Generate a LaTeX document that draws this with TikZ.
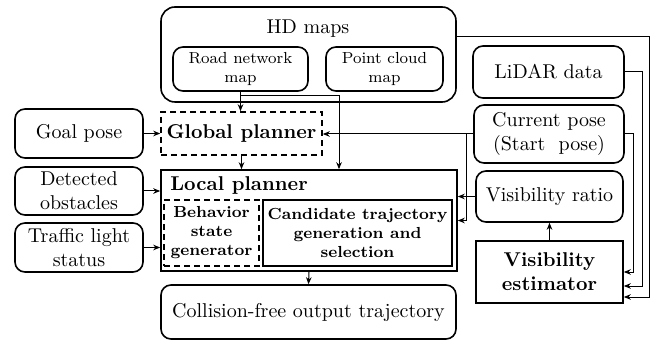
\documentclass[tikz,border=0pt]{standalone}
\usetikzlibrary{arrows.meta,calc}
\tikzset{
  box/.style={draw, line width=0.8pt, align=center, inner sep=1pt},
  rbox/.style={box, rounded corners=5pt},
  dbox/.style={box, dash pattern=on 3pt off 2pt},
  arr/.style={line width=0.5pt, -{Stealth[length=3.5pt,width=2.8pt]}},
  ln/.style={line width=0.5pt},
}
\begin{document}
\begin{tikzpicture}[x=0.5pt,y=-0.5pt]
\useasboundingbox (0,0) rectangle (656,341);
% HD maps
\node[rbox, rounded corners=7pt, minimum width=147.5pt, minimum height=47.5pt] (hd) at (308.5,54.5) {};
\node[inner sep=0pt] (hdt) at (308,29) {HD maps};
\node[rbox, minimum width=67.5pt, minimum height=22pt, font=\footnotesize] (road) at (240.5,69) {Road network\\map};
\node[rbox, minimum width=58.5pt, minimum height=22pt, font=\footnotesize] (pc) at (384.5,69) {Point cloud\\map};
% right column
\node[rbox, minimum width=75.5pt, minimum height=26pt] (lidar) at (548.5,72) {LiDAR data};
\node[rbox, minimum width=75pt, minimum height=29pt] (cur) at (549,134) {Current pose\\(Start~ pose)};
\node[rbox, minimum width=73.5pt, minimum height=25.5pt] (vr) at (549.5,196.5) {Visibility ratio};
\node[box, minimum width=73.5pt, minimum height=31pt, font=\bfseries] (ve) at (549.5,272) {Visibility\\estimator};
% left column
\node[rbox, minimum width=64pt, minimum height=24.5pt] (goal) at (79,133.5) {Goal pose};
\node[rbox, minimum width=64pt, minimum height=24pt] (det) at (79,191) {Detected\\obstacles};
\node[rbox, minimum width=64pt, minimum height=24.5pt] (tl) at (79,247.5) {Traffic light\\status};
% planners
\node[dbox, minimum width=80.5pt, minimum height=21.5pt, font=\bfseries] (gp) at (241.5,133.5) {Global planner};
\node[box, minimum width=148pt, minimum height=50.5pt] (lp) at (309,220.5) {};
\node[anchor=west, inner sep=0pt, font=\bfseries] (lpt) at (170,186) {Local planner};
\node[dbox, minimum width=47.5pt, minimum height=33pt, font=\footnotesize\bfseries] (bsg) at (211.5,233) {Behavior\\state\\generator};
\node[box, minimum width=94.5pt, minimum height=33pt, font=\footnotesize\bfseries] (cand) at (357.5,233) {Candidate trajectory\\generation and\\selection};
\node[rbox, minimum width=147.5pt, minimum height=27pt] (out) at (308.5,312) {Collision-free output trajectory};
% coordinates
\coordinate (j1) at (339,96);
\coordinate (b1) at (466,134);
\coordinate (r1) at (633,134);
\coordinate (r2) at (642,72);
\coordinate (r3) at (649,37);
% connectors
\draw[arr] (road.south) -- (road.south |- gp.north);
\draw[arr] (road.south |- j1) -- (j1) -- (j1 |- lp.north);
\draw[arr] (gp.south) -- (gp.south |- lp.north);
\draw[arr] (lp.south) -- (out.north);
\draw[arr] (goal.east) -- (goal.east -| gp.west);
\draw[arr] (det.east) -- (det.east -| lp.west);
\draw[arr] (tl.east) -- (tl.east -| lp.west);
\draw[arr] (cur.west) -- (cur.west -| gp.east);
\draw[arr] (b1) |- (lp.east);
\draw[arr] (vr.west) -- (vr.west -| lp.east);
\draw[arr] (ve.north) -- (vr.south);
\draw[arr] (cur.east) -- (r1) |- (ve.east);
\draw[arr] (lidar.east) -- (r2) |- ($(ve.east)+(0,14)$);
\draw[arr] (hd.east |- r3) -- (r3) |- ($(ve.east)+(0,25)$);
\end{tikzpicture}
\end{document}
